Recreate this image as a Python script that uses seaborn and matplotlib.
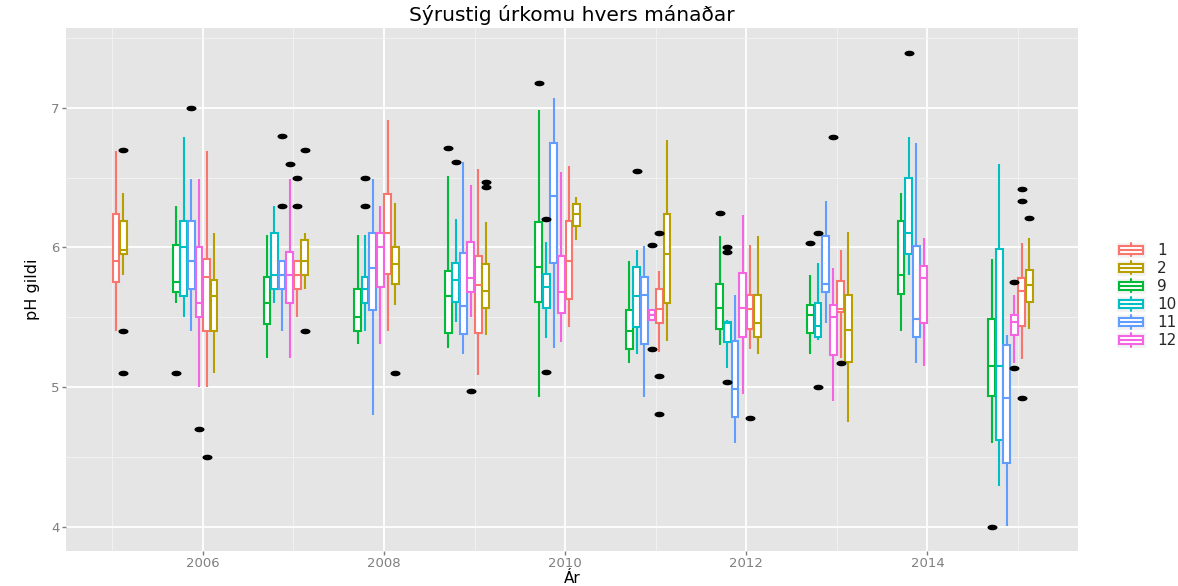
import numpy as np
import pandas as pd
import matplotlib
matplotlib.use("Agg")
import matplotlib.pyplot as plt
import seaborn as sns
from matplotlib.path import Path
from matplotlib.legend_handler import HandlerBase
from matplotlib.patches import Rectangle
from matplotlib.lines import Line2D
from matplotlib.ticker import MultipleLocator

# ---------------- data ----------------
months_order = [1, 2, 9, 10, 11, 12]
month_colors = ["#F8766D", "#B79F00", "#00BA38", "#00BFC4", "#619CFF", "#F564E3"]

box_year = [2005, 2005,
            2005, 2005, 2005, 2005, 2006, 2006,
            2006, 2006, 2006, 2006, 2007, 2007,
            2007, 2007, 2007, 2007, 2008, 2008,
            2008, 2008, 2008, 2008, 2009, 2009,
            2009, 2009, 2009, 2009, 2010, 2010,
            2010, 2010, 2010, 2010, 2011, 2011,
            2011, 2011, 2011, 2011, 2012, 2012,
            2012, 2012, 2012, 2012, 2013, 2013,
            2013, 2013, 2013, 2013,
            2014, 2014, 2014, 2014, 2015, 2015]
box_month = [1, 2] + [9, 10, 11, 12, 1, 2] * 8 + [9, 10, 11, 12] + [9, 10, 11, 12, 1, 2]

whisker_low = [5.40, 5.80,
               5.60, 5.50, 5.40, 5.00, 5.00, 5.10,
               5.21, 5.60, 5.40, 5.21, 5.50, 5.70,
               5.31, 5.40, 4.80, 5.31, 5.40, 5.59,
               5.28, 5.47, 5.24, 5.50, 5.09, 5.37,
               4.93, 5.35, 5.28, 5.32, 5.43, 6.05,
               5.17, 5.24, 4.93, 5.48, 5.25, 5.33,
               5.30, 5.14, 4.60, 4.95, 5.27, 5.24,
               5.24, 5.34, 5.46, 4.90, 5.21, 4.75,
               5.40, 5.80, 5.17, 5.15,
               4.60, 4.29, 4.01, 5.17, 5.20, 5.42]
box_low = [5.75, 5.95,
           5.68, 5.65, 5.70, 5.50, 5.40, 5.40,
           5.45, 5.70, 5.70, 5.60, 5.70, 5.80,
           5.40, 5.60, 5.55, 5.72, 5.81, 5.74,
           5.39, 5.61, 5.38, 5.68, 5.39, 5.57,
           5.61, 5.57, 5.89, 5.53, 5.63, 6.15,
           5.27, 5.43, 5.31, 5.48, 5.46, 5.60,
           5.42, 5.32, 4.79, 5.36, 5.42, 5.36,
           5.39, 5.36, 5.68, 5.23, 5.54, 5.18,
           5.67, 5.95, 5.36, 5.46,
           4.94, 4.62, 4.46, 5.37, 5.44, 5.61]
box_median = [5.90, 5.98,
              5.75, 6.00, 5.90, 5.60, 5.79, 5.65,
              5.60, 5.80, 5.80, 5.80, 5.80, 5.90,
              5.50, 5.70, 5.85, 6.00, 6.10, 5.88,
              5.65, 5.77, 5.58, 5.78, 5.73, 5.69,
              5.86, 5.72, 6.37, 5.68, 5.90, 6.24,
              5.40, 5.65, 5.66, 5.52, 5.56, 5.95,
              5.57, 5.46, 4.99, 5.57, 5.56, 5.46,
              5.52, 5.44, 5.74, 5.50, 5.56, 5.41,
              5.80, 6.10, 5.49, 5.78,
              5.15, 5.15, 4.92, 5.47, 5.69, 5.73]
box_high = [6.24, 6.19,
            6.02, 6.19, 6.19, 6.00, 5.92, 5.77,
            5.79, 6.10, 5.90, 5.97, 5.90, 6.05,
            5.70, 5.79, 6.10, 6.10, 6.38, 6.00,
            5.83, 5.89, 5.96, 6.04, 5.94, 5.88,
            6.18, 5.81, 6.75, 5.94, 6.19, 6.31,
            5.55, 5.86, 5.79, 5.55, 5.70, 6.24,
            5.74, 5.47, 5.33, 5.82, 5.66, 5.66,
            5.59, 5.60, 6.08, 5.59, 5.76, 5.66,
            6.19, 6.50, 6.01, 5.87,
            5.49, 5.99, 5.30, 5.52, 5.78, 5.84]
whisker_high = [6.69, 6.39,
                6.30, 6.79, 6.49, 6.49, 6.69, 6.10,
                6.09, 6.30, 5.90, 6.49, 5.90, 6.10,
                6.09, 6.09, 6.49, 6.30, 6.91, 6.32,
                6.51, 6.20, 6.61, 6.45, 6.56, 6.18,
                6.98, 6.04, 7.07, 6.54, 6.58, 6.36,
                5.90, 5.98, 6.01, 5.56, 5.83, 6.77,
                6.08, 5.48, 5.66, 6.23, 6.02, 6.08,
                5.80, 5.89, 6.33, 5.85, 5.98, 6.11,
                6.39, 6.79, 6.75, 6.07,
                5.92, 6.60, 5.37, 5.66, 6.03, 6.07]

outlier_year = [2005, 2005, 2005, 2005, 2005, 2005, 2006,
                2006, 2006, 2006, 2007, 2007, 2007, 2007, 2007, 2007,
                2008, 2008, 2008, 2008, 2009, 2009, 2009, 2009, 2009,
                2010, 2010, 2010, 2011, 2011, 2011, 2011,
                2011, 2011, 2011, 2012, 2012, 2012, 2012, 2012,
                2013, 2013, 2014, 2014, 2014, 2015, 2015, 2015, 2015]
outlier_month = [2, 2, 2, 9, 11, 12, 1,
                 11, 11, 12, 1, 1, 2, 2, 10, 10,
                 2, 9, 10, 12, 2, 2, 9, 10, 10,
                 10, 12, 12, 1, 1, 1, 9,
                 10, 10, 10, 1, 9, 10, 10, 12,
                 1, 10, 9, 12, 12, 1, 1, 1, 2]
outlier_value = [6.70, 5.40, 5.10, 5.10, 7.00, 4.70, 4.50,
                 6.80, 6.30, 6.60, 6.50, 6.30, 6.70, 5.40, 6.50, 6.30,
                 5.10, 6.71, 6.61, 4.97, 6.47, 6.43, 7.18, 6.20, 5.11,
                 6.55, 6.02, 5.27, 6.10, 5.08, 4.81, 6.25,
                 6.00, 5.97, 5.04, 4.78, 6.03, 6.10, 5.00, 6.79,
                 5.17, 7.39, 4.00, 5.75, 5.14, 6.42, 6.33, 4.92, 6.21]

# ---------------- build tables ----------------
rows = []
for i in range(len(box_year)):
    pos = box_year[i] + (box_month[i] - 0.5) / 12.0
    for v in (whisker_low[i], box_low[i], box_median[i], box_high[i], whisker_high[i]):
        rows.append({"pos": pos, "month": box_month[i], "ph": v})
boxes = pd.DataFrame(rows)

outliers = pd.DataFrame({
    "pos": [y + (m - 0.5) / 12.0 for y, m in zip(outlier_year, outlier_month)],
    "ph": outlier_value,
})

# ---------------- style ----------------
sns.set_theme(style="darkgrid", rc={
    "axes.facecolor": "#E5E5E5",
    "grid.color": "white",
    "grid.linewidth": 1.3,
    "figure.facecolor": "white",
})
plt.rcParams["font.family"] = ["DejaVu Sans"]

fig = plt.figure(figsize=(11.78, 5.86), dpi=100)
ax = fig.add_axes([0.056, 0.0597, 0.859, 0.8925])

lw = 1.5
for m, c in zip(months_order, month_colors):
    sub = boxes[boxes["month"] == m]
    sns.boxplot(data=sub, x="pos", y="ph", native_scale=True, orient="x",
                width=0.075, whis=(0, 100), showfliers=False, fill=True,
                color=c, linecolor=c, linewidth=lw,
                boxprops={"facecolor": "white"},
                capprops={"linewidth": 0}, ax=ax)

theta = np.linspace(0, 2 * np.pi, 41)
ellipse = Path(np.column_stack([1.8 * np.cos(theta), np.sin(theta)]), closed=True)
sns.scatterplot(data=outliers, x="pos", y="ph", color="black", marker=ellipse,
                s=52, linewidth=0, legend=False, ax=ax, zorder=4)

ax.set_xlim(2004.49, 2015.66)
ax.set_ylim(3.828, 7.57)
ax.xaxis.set_major_locator(MultipleLocator(2))
ax.xaxis.set_minor_locator(MultipleLocator(1))
ax.yaxis.set_major_locator(MultipleLocator(1))
ax.yaxis.set_minor_locator(MultipleLocator(0.5))
ax.grid(which="major", color="white", linewidth=1.3)
ax.grid(which="minor", color="#F2F2F2", linewidth=0.7)
ax.set_axisbelow(True)
for s in ax.spines.values():
    s.set_visible(False)
ax.tick_params(which="major", bottom=True, left=True, length=3, width=1,
               color="#7F7F7F", labelcolor="#7F7F7F", labelsize=9.5, pad=1.5)
ax.tick_params(which="minor", bottom=False, left=False)

ax.set_title("Sýrustig úrkomu hvers mánaðar", fontsize=14.5, pad=5, color="black")
ax.set_xlabel("Ár", fontsize=11, labelpad=0.5, color="black")
ax.set_ylabel("pH gildi", fontsize=11.5, labelpad=8, color="black")


class BoxKeyHandler(HandlerBase):
    def create_artists(self, legend, orig_handle, xdescent, ydescent,
                       width, height, fontsize, trans):
        c = orig_handle.get_color()
        x0, y0 = -xdescent, -ydescent
        bg = Rectangle((x0, y0), width, height, facecolor="#F2F2F2",
                       edgecolor="white", lw=1.0, transform=trans)
        box = Rectangle((x0 + 0.1 * width, y0 + 0.25 * height), 0.8 * width,
                        0.5 * height, facecolor="white", edgecolor=c, lw=lw,
                        transform=trans)
        med = Line2D([x0 + 0.1 * width, x0 + 0.9 * width],
                     [y0 + 0.5 * height] * 2, color=c, lw=lw, transform=trans)
        w1 = Line2D([x0 + 0.5 * width] * 2, [y0 + 0.08 * height, y0 + 0.25 * height],
                    color=c, lw=lw, transform=trans)
        w2 = Line2D([x0 + 0.5 * width] * 2, [y0 + 0.75 * height, y0 + 0.92 * height],
                    color=c, lw=lw, transform=trans)
        return [bg, box, med, w1, w2]


handles = [Line2D([], [], color=c) for c in month_colors]
labels = [str(m) for m in months_order]
fig.legend(handles, labels, loc="center left", bbox_to_anchor=(0.938, 0.497),
           frameon=False, fontsize=11, handlelength=2.0, handleheight=1.25,
           labelspacing=0.12, handletextpad=0.7, borderpad=0.2,
           handler_map={Line2D: BoxKeyHandler()})

fig.savefig("out.png", dpi=100)
